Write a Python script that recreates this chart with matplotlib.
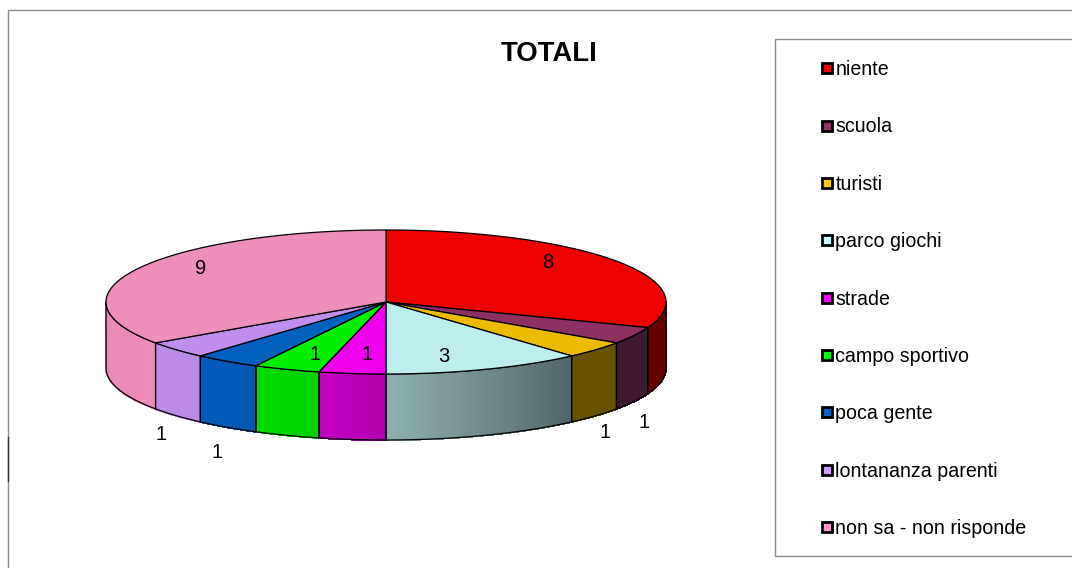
import numpy as np
import matplotlib
matplotlib.use("Agg")
import matplotlib.pyplot as plt
from matplotlib.collections import PolyCollection
from matplotlib.colors import to_rgb
from matplotlib.lines import Line2D
from matplotlib.patches import Polygon, Rectangle

categories = ["niente", "scuola", "turisti", "parco giochi", "strade",
              "campo sportivo", "poca gente", "lontananza parenti",
              "non sa - non risponde"]
values = [8, 1, 1, 3, 1, 1, 1, 1, 9]
title = "TOTALI"

top_colors = ["#ee0000", "#8b3060", "#ecbb00", "#bdeeee", "#ee00ee",
              "#00ee00", "#0060bd", "#bd8eee", "#ee8eba"]
side_start = ["#640000", "#3e1a30", "#655300", "#4f6465", "#b000a8",
              "#00d000", "#0058b4", "#b98ae6", "#ee8cba"]
side_end = ["#640000", "#3e1a30", "#655300", "#90b0b0", "#c400c4",
            "#00dc00", "#005cb8", "#bb8de8", "#e88ab6"]
legend_colors = ["#ff0000", "#993366", "#ffcc00", "#ccffff", "#ff00ff",
                 "#00ff00", "#0066cc", "#cc99ff", "#ff99cc"]
label_xy = [(548, 263), (644, 422), (605, 433), (444, 356), (367, 354),
            (315, 354), (217, 452), (161, 434), (201, 268)]

CX, CY, RX, RY, DEPTH = 386, 302, 280, 72, 66
plt.rcParams["font.family"] = ["Liberation Sans", "DejaVu Sans"]

fig = plt.figure(figsize=(10.72, 5.68), dpi=100)
ax = fig.add_axes([0, 0, 1, 1])
ax.set_xlim(0, 1072)
ax.set_ylim(568, 0)
ax.axis("off")


def rim(a, dy=0.0):
    a = np.radians(a)
    return np.column_stack([CX + RX * np.sin(a), CY + RY * (-np.cos(a)) + dy])


# chart frame
ax.plot([1072, 7.5, 7.5], [10, 10, 568], color="#8c8c8c", lw=1, zorder=1)
ax.plot([7.5, 7.5], [437, 481], color="#303030", lw=1, zorder=1)

edges = np.concatenate([[0], np.cumsum(values)]) * 360.0 / sum(values)

# visible side walls
for i in range(len(values)):
    a0, a1 = max(edges[i], 90), min(edges[i + 1], 270)
    if a1 <= a0:
        continue
    n = max(2, int((a1 - a0) * 2))
    t = np.linspace(a0, a1, n + 1)
    top, bot = rim(t), rim(t, DEPTH)
    c0, c1 = np.array(to_rgb(side_start[i])), np.array(to_rgb(side_end[i]))
    quads = [np.vstack([top[j], top[j + 1], bot[j + 1], bot[j]]) for j in range(n)]
    cols = [c0 + (c1 - c0) * (j + .5) / n for j in range(n)]
    ax.add_collection(PolyCollection(quads, facecolors=cols, edgecolors=cols, lw=.8,
                                     antialiased=False, zorder=2))
    outline = np.vstack([top, bot[::-1], top[:1]])
    ax.plot(outline[:, 0], outline[:, 1], color="black", lw=.9, zorder=3)

# top faces
for i in range(len(values)):
    t = np.linspace(edges[i], edges[i + 1], max(3, int((edges[i + 1] - edges[i]) * 2)))
    pts = np.vstack([[CX, CY], rim(t)])
    ax.add_patch(Polygon(pts, closed=True, facecolor=top_colors[i], edgecolor="black",
                         lw=.9, joinstyle="round", zorder=4))

for v, (x, y) in zip(values, label_xy):
    ax.text(x, y, str(v), fontsize=14.5, ha="center", va="center", color="black", zorder=6)

ax.text(549, 54, title, fontsize=19.8, fontweight="bold", ha="center", va="center")

# legend
ax.add_patch(Rectangle((775, 38.5), 320, 517, facecolor="white", edgecolor="#8c8c8c", lw=1, zorder=1))
handles = [Line2D([], [], ls="none", marker="s", ms=6.6, mfc=c, mec="black", mew=2.0)
           for c in legend_colors]
leg = ax.legend(handles, categories, loc="upper left", bbox_to_anchor=(820.5 / 1072, 1 - 60 / 568),
                frameon=False, fontsize=14.1, labelspacing=1.96, handlelength=.66,
                handletextpad=.1, borderpad=0, borderaxespad=0, numpoints=1)
leg.set_zorder(5)

fig.savefig("out.png", dpi=100)
